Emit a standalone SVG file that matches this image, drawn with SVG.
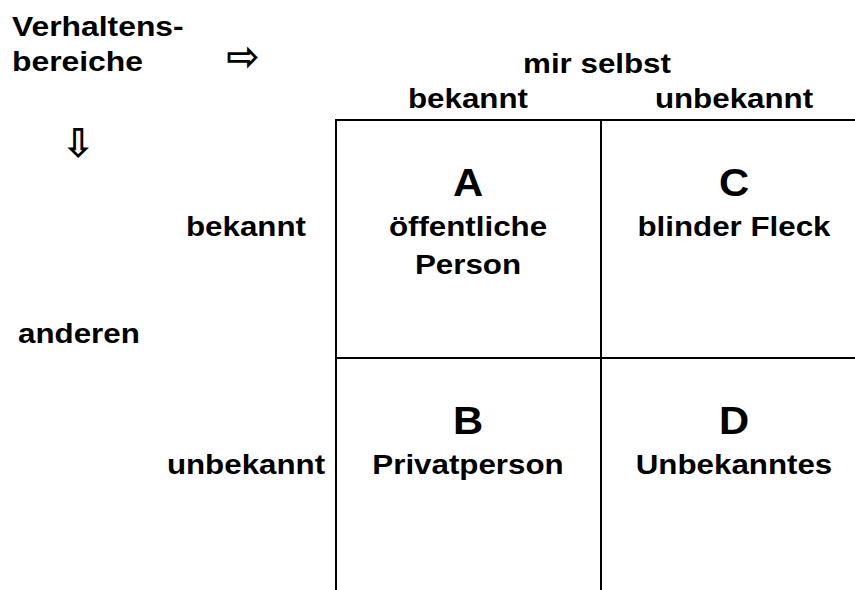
<svg xmlns="http://www.w3.org/2000/svg" width="855" height="590" viewBox="0 0 855 590">
<style>
text{font-family:"Liberation Sans",Arial,sans-serif;font-weight:bold;fill:#000}
.l{font-size:27px}
.big{font-size:38px}
.c{text-anchor:middle}
.sym{font-family:"DejaVu Sans",sans-serif;font-size:40px;font-weight:bold}
.ln{stroke:#000;stroke-width:2;fill:none}
</style>
<rect width="855" height="590" fill="#fff"/>
<g id="header">
<text class="l" transform="translate(12,36) scale(1.18,1)">Verhaltens-</text>
<text class="l" transform="translate(12,71) scale(1.18,1)">bereiche</text>
<text class="sym c" x="243" y="70">⇨</text>
<text class="sym c" x="78" y="157">⇩</text>
<text class="l c" transform="translate(597,73) scale(1.16,1)">mir selbst</text>
<text class="l c" transform="translate(468,108) scale(1.16,1)">bekannt</text>
<text class="l c" transform="translate(734,108) scale(1.16,1)">unbekannt</text>
<text class="l c" transform="translate(246,236) scale(1.16,1)">bekannt</text>
<text class="l" transform="translate(18,343) scale(1.16,1)">anderen</text>
<text class="l c" transform="translate(246,474) scale(1.16,1)">unbekannt</text>
</g>
<g id="connectors">
<line class="ln" x1="335" y1="120" x2="855" y2="120"/>
<line class="ln" x1="335" y1="358" x2="855" y2="358"/>
<line class="ln" x1="336" y1="119" x2="336" y2="590"/>
<line class="ln" x1="601" y1="119" x2="601" y2="590"/>
</g>
<g id="A"><text class="big c" transform="translate(468,196) scale(1.1,1)">A</text><text class="l c" transform="translate(468,236) scale(1.16,1)">öffentliche</text><text class="l c" transform="translate(468,274) scale(1.16,1)">Person</text></g>
<g id="C"><text class="big c" transform="translate(734,196) scale(1.1,1)">C</text><text class="l c" transform="translate(734,236) scale(1.16,1)">blinder Fleck</text></g>
<g id="B"><text class="big c" transform="translate(468,434) scale(1.1,1)">B</text><text class="l c" transform="translate(468,474) scale(1.16,1)">Privatperson</text></g>
<g id="D"><text class="big c" transform="translate(734,434) scale(1.1,1)">D</text><text class="l c" transform="translate(734,474) scale(1.16,1)">Unbekanntes</text></g>
</svg>
